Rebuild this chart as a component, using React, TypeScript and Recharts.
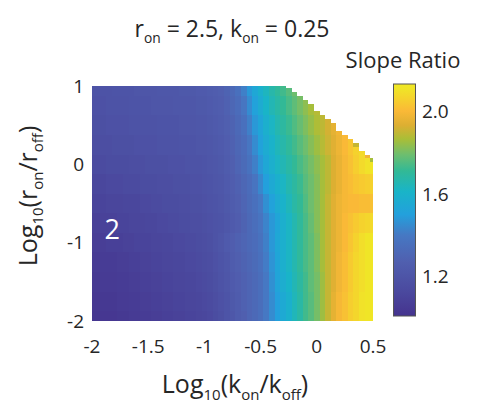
import React from "react";
import { ReferenceArea, Scatter, ScatterChart, XAxis, YAxis } from "recharts";

// grid centres of the heat map (log10 k_on/k_off, log10 r_on/r_off)
const xCenters = [
  -2, -1.95, -1.9, -1.85, -1.8, -1.75, -1.7, -1.65, -1.6, -1.55, -1.5, -1.45, -1.4,
  -1.35, -1.3, -1.25, -1.2, -1.15, -1.1, -1.05, -1, -0.95, -0.9, -0.85, -0.8, -0.75,
  -0.7, -0.65, -0.6, -0.55, -0.5, -0.45, -0.4, -0.35, -0.3, -0.25, -0.2, -0.15, -0.1,
  -0.05, 0, 0.05, 0.1, 0.15, 0.2, 0.25, 0.3, 0.35, 0.4, 0.45, 0.5,
];
const rowCenters = [1, 0.75, 0.5, 0.25, 0, -0.25, -0.5, -0.75, -1, -1.25, -1.5, -1.75, -2];

// slope ratio, one row per rowCenters entry, one value per xCenters entry
const slopeRows = [
  [1.19,1.19,1.19,1.19,1.20,1.20,1.20,1.20,1.21,1.21,1.21,1.21,1.22,1.22,1.22,1.22,1.23,1.23,1.23,1.24,1.24,
   1.25,1.26,1.27,1.29,1.32,1.36,1.42,1.48,1.54,1.59,1.63,1.67,1.70,1.73,1.76,1.79,1.82,1.84,1.86,1.88,
   1.90,1.93,1.95,1.99,2.01,2.04,2.06,2.08,2.10,2.11],
  [1.18,1.18,1.18,1.19,1.19,1.19,1.19,1.20,1.20,1.20,1.20,1.21,1.21,1.21,1.21,1.22,1.22,1.22,1.22,1.23,1.23,
   1.24,1.25,1.26,1.28,1.31,1.34,1.39,1.45,1.51,1.56,1.61,1.65,1.68,1.71,1.74,1.77,1.80,1.83,1.86,1.88,
   1.90,1.93,1.95,1.99,2.01,2.04,2.06,2.08,2.10,2.11],
  [1.17,1.17,1.17,1.18,1.18,1.18,1.18,1.19,1.19,1.19,1.19,1.19,1.20,1.20,1.20,1.20,1.21,1.21,1.21,1.22,1.22,
   1.23,1.24,1.25,1.27,1.29,1.32,1.36,1.42,1.48,1.53,1.58,1.62,1.66,1.69,1.72,1.75,1.78,1.81,1.84,1.87,
   1.89,1.92,1.95,1.98,2.01,2.04,2.06,2.08,2.10,2.11],
  [1.16,1.16,1.16,1.16,1.17,1.17,1.17,1.17,1.18,1.18,1.18,1.18,1.19,1.19,1.19,1.19,1.20,1.20,1.20,1.21,1.21,
   1.22,1.23,1.24,1.26,1.28,1.31,1.34,1.39,1.45,1.51,1.56,1.60,1.64,1.67,1.70,1.73,1.76,1.79,1.82,1.85,
   1.88,1.91,1.94,1.97,2.00,2.03,2.06,2.08,2.10,2.12],
  [1.14,1.14,1.14,1.15,1.15,1.15,1.15,1.16,1.16,1.16,1.17,1.17,1.17,1.17,1.18,1.18,1.18,1.19,1.19,1.19,1.20,
   1.21,1.22,1.23,1.25,1.27,1.30,1.33,1.37,1.42,1.48,1.54,1.58,1.62,1.65,1.68,1.71,1.74,1.77,1.80,1.83,
   1.86,1.89,1.93,1.96,1.99,2.02,2.05,2.08,2.10,2.12],
  [1.12,1.12,1.12,1.13,1.13,1.13,1.14,1.14,1.14,1.15,1.15,1.15,1.16,1.16,1.16,1.17,1.17,1.17,1.18,1.18,1.19,
   1.20,1.21,1.22,1.24,1.26,1.28,1.31,1.34,1.38,1.44,1.50,1.55,1.59,1.62,1.66,1.69,1.72,1.76,1.79,1.82,
   1.86,1.89,1.93,1.96,1.99,2.01,2.03,2.04,2.05,2.06],
  [1.10,1.10,1.10,1.11,1.11,1.11,1.12,1.12,1.12,1.13,1.13,1.14,1.14,1.15,1.15,1.15,1.16,1.16,1.17,1.17,1.18,
   1.19,1.20,1.21,1.23,1.25,1.27,1.30,1.33,1.36,1.40,1.46,1.51,1.56,1.60,1.64,1.68,1.71,1.75,1.79,1.82,
   1.86,1.90,1.94,1.97,1.99,2.00,2.00,2.01,2.01,2.02],
  [1.08,1.08,1.09,1.09,1.09,1.10,1.10,1.11,1.11,1.11,1.12,1.12,1.13,1.13,1.14,1.14,1.15,1.15,1.16,1.16,1.17,
   1.18,1.19,1.20,1.22,1.24,1.26,1.29,1.32,1.35,1.38,1.43,1.48,1.53,1.58,1.62,1.66,1.70,1.74,1.78,1.82,
   1.86,1.90,1.94,1.97,2.00,2.02,2.04,2.06,2.07,2.08],
  [1.07,1.07,1.07,1.08,1.08,1.08,1.09,1.09,1.10,1.10,1.10,1.11,1.11,1.12,1.12,1.13,1.13,1.14,1.14,1.15,1.16,
   1.17,1.19,1.21,1.24,1.26,1.28,1.30,1.32,1.34,1.37,1.42,1.48,1.54,1.58,1.62,1.66,1.70,1.74,1.77,1.81,
   1.86,1.90,1.94,1.97,2.00,2.03,2.06,2.09,2.11,2.12],
  [1.05,1.05,1.06,1.06,1.06,1.07,1.07,1.08,1.08,1.09,1.09,1.10,1.10,1.11,1.11,1.12,1.12,1.13,1.13,1.14,1.15,
   1.16,1.18,1.20,1.22,1.25,1.27,1.29,1.31,1.33,1.36,1.41,1.47,1.53,1.58,1.62,1.66,1.70,1.74,1.77,1.81,
   1.86,1.90,1.94,1.98,2.01,2.04,2.07,2.09,2.11,2.12],
  [1.04,1.04,1.05,1.05,1.05,1.06,1.06,1.07,1.07,1.08,1.08,1.09,1.09,1.10,1.10,1.11,1.11,1.12,1.12,1.13,1.14,
   1.15,1.17,1.19,1.21,1.24,1.26,1.28,1.30,1.32,1.35,1.40,1.46,1.52,1.57,1.61,1.65,1.69,1.73,1.77,1.80,
   1.85,1.90,1.94,1.98,2.01,2.04,2.07,2.09,2.11,2.12],
  [1.03,1.03,1.04,1.04,1.04,1.05,1.05,1.06,1.06,1.07,1.07,1.08,1.08,1.09,1.09,1.10,1.10,1.11,1.11,1.12,1.13,
   1.14,1.16,1.18,1.20,1.23,1.25,1.28,1.30,1.32,1.35,1.40,1.45,1.50,1.55,1.59,1.64,1.68,1.73,1.76,1.80,
   1.85,1.90,1.95,1.99,2.02,2.05,2.07,2.10,2.11,2.12],
  [1.02,1.02,1.03,1.03,1.03,1.04,1.04,1.05,1.05,1.06,1.06,1.07,1.07,1.08,1.08,1.09,1.09,1.10,1.10,1.11,1.12,
   1.13,1.15,1.17,1.20,1.22,1.25,1.27,1.30,1.32,1.35,1.40,1.45,1.50,1.55,1.59,1.64,1.68,1.73,1.76,1.80,
   1.85,1.90,1.95,1.99,2.02,2.05,2.07,2.10,2.11,2.12],
];

// highest y centre with data in each column (the cut-off staircase, top right)
const columnTop = [
  1, 1, 1, 1, 1, 1, 1, 1, 1, 1, 1, 1, 1, 1, 1, 1, 1, 1, 1, 1, 1, 1, 1, 1, 1, 1, 1, 1, 1, 1,
  1, 1, 1, 1, 1, 0.95, 0.9, 0.85, 0.8, 0.75, 0.65, 0.6, 0.55, 0.5, 0.4, 0.35, 0.3, 0.25,
  0.15, 0.1, 0.05,
];
// odd-coloured last cells along the staircase
const edgeColumns = [47, 49, 50];
const edgeSlope = [1.9, 1.98, 1.86];

const xTicks = [-2, -1.5, -1, -0.5, 0, 0.5];
const yTicks = [-2, -1, 0, 1];
const colorTicks = [1.2, 1.6, 2.0];
const colorMin = 1.01;
const colorMax = 2.13;
const annotation = [{ x: -1.82, y: -0.83, text: "2" }];

// parula-like map as seen on the colour bar
const cmapValues = [1.01, 1.03, 1.14, 1.27, 1.4, 1.5, 1.61, 1.71, 1.79, 1.865, 1.93, 2.0, 2.06, 2.106, 2.13];
const cmapColors = [
  "#44348e", "#463791", "#4b4ba0", "#505faf", "#4678c3", "#23a0dc", "#19b4c8", "#32b996",
  "#6ebe6e", "#aabe37", "#dcaf32", "#fab937", "#f5d22d", "#f0e428", "#f0e823",
];

const FONT = "'Open Sans', 'Noto Sans', sans-serif";
const INK = "#262626";

function hexToRgb(h: string) {
  return [1, 3, 5].map((i) => parseInt(h.slice(i, i + 2), 16));
}

function colorFor(v: number) {
  if (v <= cmapValues[0]) return cmapColors[0];
  for (let i = 1; i < cmapValues.length; i++) {
    if (v <= cmapValues[i]) {
      const t = (v - cmapValues[i - 1]) / (cmapValues[i] - cmapValues[i - 1]);
      const a = hexToRgb(cmapColors[i - 1]);
      const b = hexToRgb(cmapColors[i]);
      const c = a.map((av, k) => Math.round(av + (b[k] - av) * t));
      return `rgb(${c[0]},${c[1]},${c[2]})`;
    }
  }
  return cmapColors[cmapColors.length - 1];
}

type Cell = { key: string; x1: number; x2: number; y1: number; y2: number; fill: string };

const cells: Cell[] = [];
rowCenters.forEach((yc, r) => {
  xCenters.forEach((xc, i) => {
    const x1 = Math.max(-2, xc - 0.025);
    const x2 = Math.min(0.5, xc + 0.025);
    const y1 = Math.max(-2, yc - 0.125);
    const y2 = Math.min(1, yc + 0.125, columnTop[i] + 0.025);
    if (y2 <= y1) return;
    cells.push({ key: `c${r}-${i}`, x1, x2, y1, y2, fill: colorFor(slopeRows[r][i]) });
  });
});
edgeColumns.forEach((i, k) => {
  const xc = xCenters[i];
  cells.push({
    key: `e${i}`,
    x1: Math.max(-2, xc - 0.025),
    x2: Math.min(0.5, xc + 0.025),
    y1: columnTop[i] - 0.025,
    y2: Math.min(1, columnTop[i] + 0.025),
    fill: colorFor(edgeSlope[k]),
  });
});

const cellShape = (p: any) => (
  <rect x={p.x} y={p.y} width={p.width} height={p.height} fill={p.fill} shapeRendering="crispEdges" />
);

const Sub = ({ children }: { children: React.ReactNode }) => (
  <span style={{ fontSize: "0.6em", verticalAlign: "-0.45em" }}>{children}</span>
);

function ColorBar() {
  const top = 84;
  const height = 232;
  const yOf = (v: number) => top + ((colorMax - v) / (colorMax - colorMin)) * height;
  return (
    <svg width={90} height={413} style={{ position: "absolute", left: 385, top: 0 }}>
      <defs>
        <linearGradient id="cbar" x1="0" y1="1" x2="0" y2="0">
          {cmapValues.map((v, i) => (
            <stop key={v} offset={(v - colorMin) / (colorMax - colorMin)} stopColor={cmapColors[i]} />
          ))}
        </linearGradient>
      </defs>
      <rect x={8.5} y={top} width={22} height={height} fill="url(#cbar)" stroke="#555" strokeWidth={1} />
      {colorTicks.map((v) => (
        <text key={v} x={37} y={yOf(v)} dy="0.36em" fontSize={19} fontFamily={FONT} fill={INK}>
          {v.toFixed(1)}
        </text>
      ))}
    </svg>
  );
}

export default function App() {
  return (
    <div
      style={{
        position: "absolute",
        left: 0,
        top: 0,
        width: 482,
        height: 413,
        background: "#fff",
        fontFamily: FONT,
        color: INK,
      }}
    >
      <ScatterChart width={482} height={413} margin={{ top: 86, right: 109, bottom: 0, left: 0 }}>
        <XAxis
          type="number"
          dataKey="x"
          domain={[-2, 0.5]}
          ticks={xTicks}
          allowDataOverflow
          height={92}
          axisLine={false}
          tickLine={false}
          tickSize={0}
          tickMargin={19}
          tickFormatter={(v) => String(v)}
          tick={{ fontSize: 19, fill: INK, fontFamily: FONT }}
        />
        <YAxis
          type="number"
          dataKey="y"
          domain={[-2, 1]}
          ticks={yTicks}
          allowDataOverflow
          width={92}
          axisLine={false}
          tickLine={false}
          tickSize={0}
          tickMargin={8}
          tick={{ fontSize: 19, fill: INK, fontFamily: FONT }}
        />
        {cells.map((c) => (
          <ReferenceArea
            key={c.key}
            x1={c.x1}
            x2={c.x2}
            y1={c.y1}
            y2={c.y2}
            fill={c.fill}
            fillOpacity={1}
            stroke="none"
            shape={cellShape}
          />
        ))}
        <Scatter
          data={annotation}
          isAnimationActive={false}
          shape={(p: any) => (
            <text x={p.cx} y={p.cy} dy="0.36em" textAnchor="middle" fontSize={27} fill="#fff" fontFamily={FONT}>
              {p.payload.text}
            </text>
          )}
        />
      </ScatterChart>

      <div style={{ position: "absolute", left: 232, top: 17, transform: "translateX(-50%)", fontSize: 23, lineHeight: 1, whiteSpace: "nowrap" }}>
        r<Sub>on</Sub> = 2.5, k<Sub>on</Sub> = 0.25
      </div>
      <div style={{ position: "absolute", left: 403, top: 48, transform: "translateX(-50%)", fontSize: 22, lineHeight: 1, whiteSpace: "nowrap" }}>
        Slope Ratio
      </div>
      <div style={{ position: "absolute", left: 235, top: 371, transform: "translateX(-50%)", fontSize: 25, lineHeight: 1, whiteSpace: "nowrap" }}>
        Log<Sub>10</Sub>(k<Sub>on</Sub>/k<Sub>off</Sub>)
      </div>
      <div
        style={{
          position: "absolute",
          left: 30,
          top: 196,
          transform: "translate(-50%, -50%) rotate(-90deg)",
          fontSize: 25,
          lineHeight: 1,
          whiteSpace: "nowrap",
        }}
      >
        Log<Sub>10</Sub>(r<Sub>on</Sub>/r<Sub>off</Sub>)
      </div>
      <ColorBar />
    </div>
  );
}
